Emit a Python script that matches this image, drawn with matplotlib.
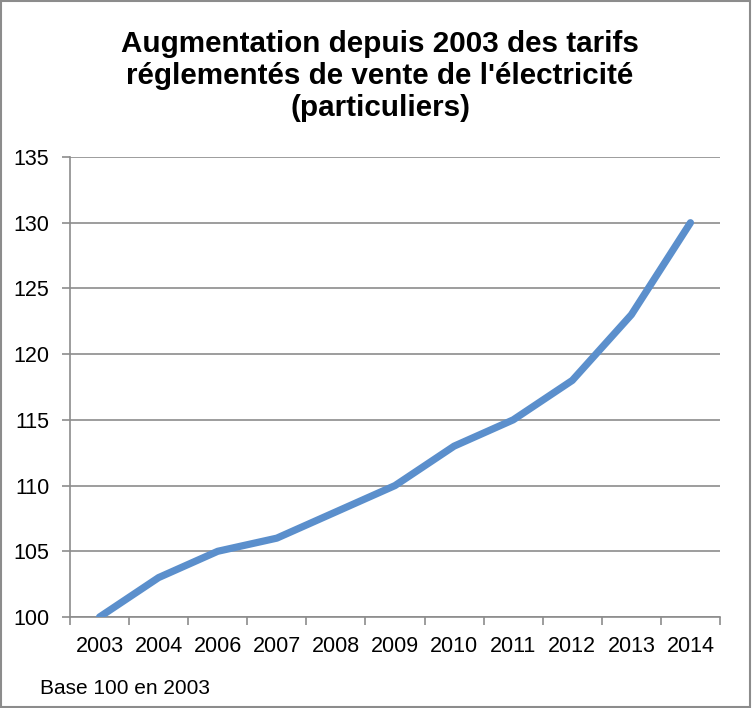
import numpy as np
import matplotlib
matplotlib.use("Agg")
import matplotlib.pyplot as plt
from matplotlib.patches import Rectangle

plt.rcParams['font.family'] = ['Liberation Sans', 'DejaVu Sans']

years = ['2003', '2004', '2006', '2007', '2008', '2009', '2010', '2011', '2012', '2013', '2014']
tarif = [100, 103, 105, 106, 108, 110, 113, 115, 118, 123, 130]
yticks = [100, 105, 110, 115, 120, 125, 130, 135]

grey = '#8c8c8c'

fig = plt.figure(figsize=(7.52, 7.08), dpi=100)
ax = fig.add_axes([70 / 752, 1 - 617 / 708, 650 / 752, 460 / 708])

x = np.arange(len(years))
ax.plot(x, tarif, color='#5b8fcc', lw=5.2, solid_capstyle='round', solid_joinstyle='round', zorder=3)

ax.set_xlim(-0.5, len(years) - 0.5)
ax.set_ylim(100, 135)
ax.set_yticks(yticks)
ax.set_yticklabels([str(v) for v in yticks])
ax.set_xticks(x)
ax.set_xticklabels(years)
ax.set_xticks(np.arange(-0.5, len(years), 1), minor=True)
ax.tick_params(axis='x', which='major', length=0, pad=14, labelsize=15.5)
ax.tick_params(axis='x', which='minor', length=6, color=grey, width=1.2, direction='out')
ax.tick_params(axis='y', length=6, color=grey, width=1.2, direction='out', pad=9, labelsize=15.5)

ax.grid(axis='y', color=grey, lw=1.2)
ax.set_axisbelow(True)
for side in ['top', 'right']:
    ax.spines[side].set_visible(False)
for side in ['left', 'bottom']:
    ax.spines[side].set_color(grey)
    ax.spines[side].set_linewidth(1.2)

fig.text(380 / 752, 1 - 76 / 708,
         "Augmentation depuis 2003 des tarifs\nréglementés de vente de l'électricité\n(particuliers)",
         ha='center', va='center', fontsize=21.3, fontweight='bold', linespacing=1.18)
fig.text(40 / 752, 1 - 689 / 708, "Base 100 en 2003", ha='left', va='center', fontsize=15)

fig.patches.append(Rectangle((0.001, 0.001), 0.997, 0.997, transform=fig.transFigure,
                             fill=False, edgecolor=grey, lw=1.5))

fig.savefig('out.png', dpi=100)
